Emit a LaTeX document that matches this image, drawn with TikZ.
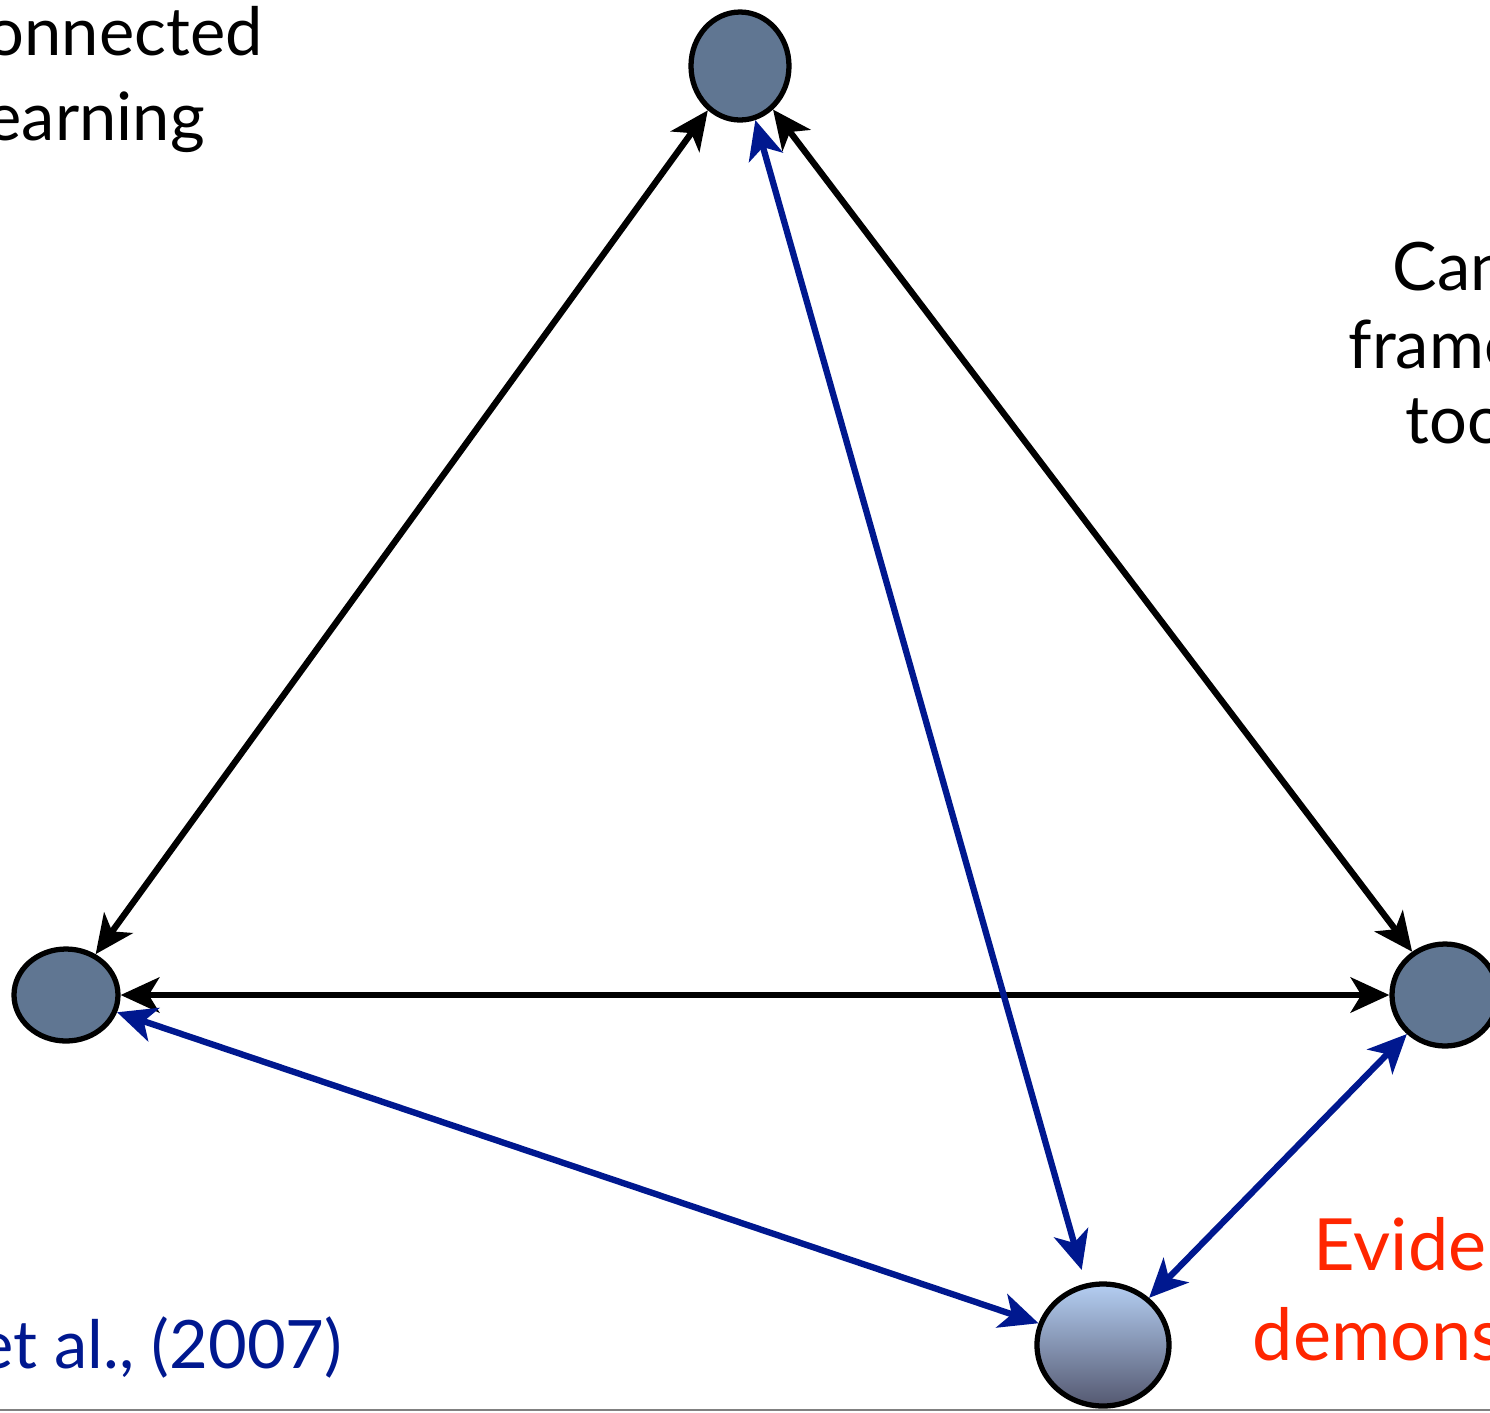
\documentclass[tikz,border=0pt]{standalone}
\usepackage{fontspec}
\setmainfont{Lato}
\definecolor{tnavy}{RGB}{0,24,143}
\definecolor{tred}{RGB}{255,38,0}
\definecolor{tslate}{RGB}{96,118,146}
\definecolor{tsky}{RGB}{180,206,242}
\definecolor{tdusk}{RGB}{84,88,112}
\usetikzlibrary{arrows.meta,shapes.geometric}

\begin{document}
\begin{tikzpicture}[x=0.1mm, y=-0.1mm,
  vbox/.style={ellipse, draw=black, line width=1.5pt, inner sep=0pt},
  lbl/.style={anchor=base west, inner sep=0pt, font=\fontsize{19pt}{22pt}\selectfont},
  barr/.style={{Stealth[length=11pt,width=10pt,inset=3pt]}-{Stealth[length=11pt,width=10pt,inset=3pt]}, line width=1.8pt}
]
\useasboundingbox (0,0) rectangle (1490,1412);
\clip (0,0) rectangle (1490,1412);

% Vertices
\node[vbox, fill=tslate, minimum width=9.8mm,  minimum height=10.8mm] (tp) at (740,66)   {};
\node[vbox, fill=tslate, minimum width=10.4mm, minimum height=9.2mm]  (lf) at (66,995)   {};
\node[vbox, fill=tslate, minimum width=10.6mm, minimum height=10.2mm] (rt) at (1445,995) {};
\node[vbox, top color=tsky, bottom color=tdusk, minimum width=13.2mm, minimum height=12.2mm] (bt) at (1103,1345) {};

% Labels
\node[lbl] (ltxt1) at (-14,55)   {onnected};
\node[lbl] (ltxt2) at (-14,140)  {earning};
\node[lbl] (rtxt1) at (1392,290) {Can};
\node[lbl] (rtxt2) at (1348,368) {frame};
\node[lbl] (rtxt3) at (1405,443) {too};
\node[lbl, text=tnavy] (cite) at (-22,1368) {et al., (2007)};
\node[lbl, text=tred, font=\fontsize{20.5pt}{24pt}\selectfont] (etxt1) at (1313,1270) {Evide};
\node[lbl, text=tred, font=\fontsize{20.5pt}{24pt}\selectfont] (etxt2) at (1252,1360) {demons};

% Arrows
\draw[barr, draw=black] (tp) -- (lf);
\draw[barr, draw=black] (tp) -- (rt);
\draw[barr, draw=black] (lf) -- (rt);
\draw[barr, draw=tnavy, fill=tnavy, shorten >=4pt] (tp) -- (bt);
\draw[barr, draw=tnavy, fill=tnavy] (lf) -- (bt);
\draw[barr, draw=tnavy, fill=tnavy] (rt) -- (bt);

% Bottom rule
\draw[gray, line width=0.6pt] (0,1410) -- (1490,1410);
\end{tikzpicture}
\end{document}
